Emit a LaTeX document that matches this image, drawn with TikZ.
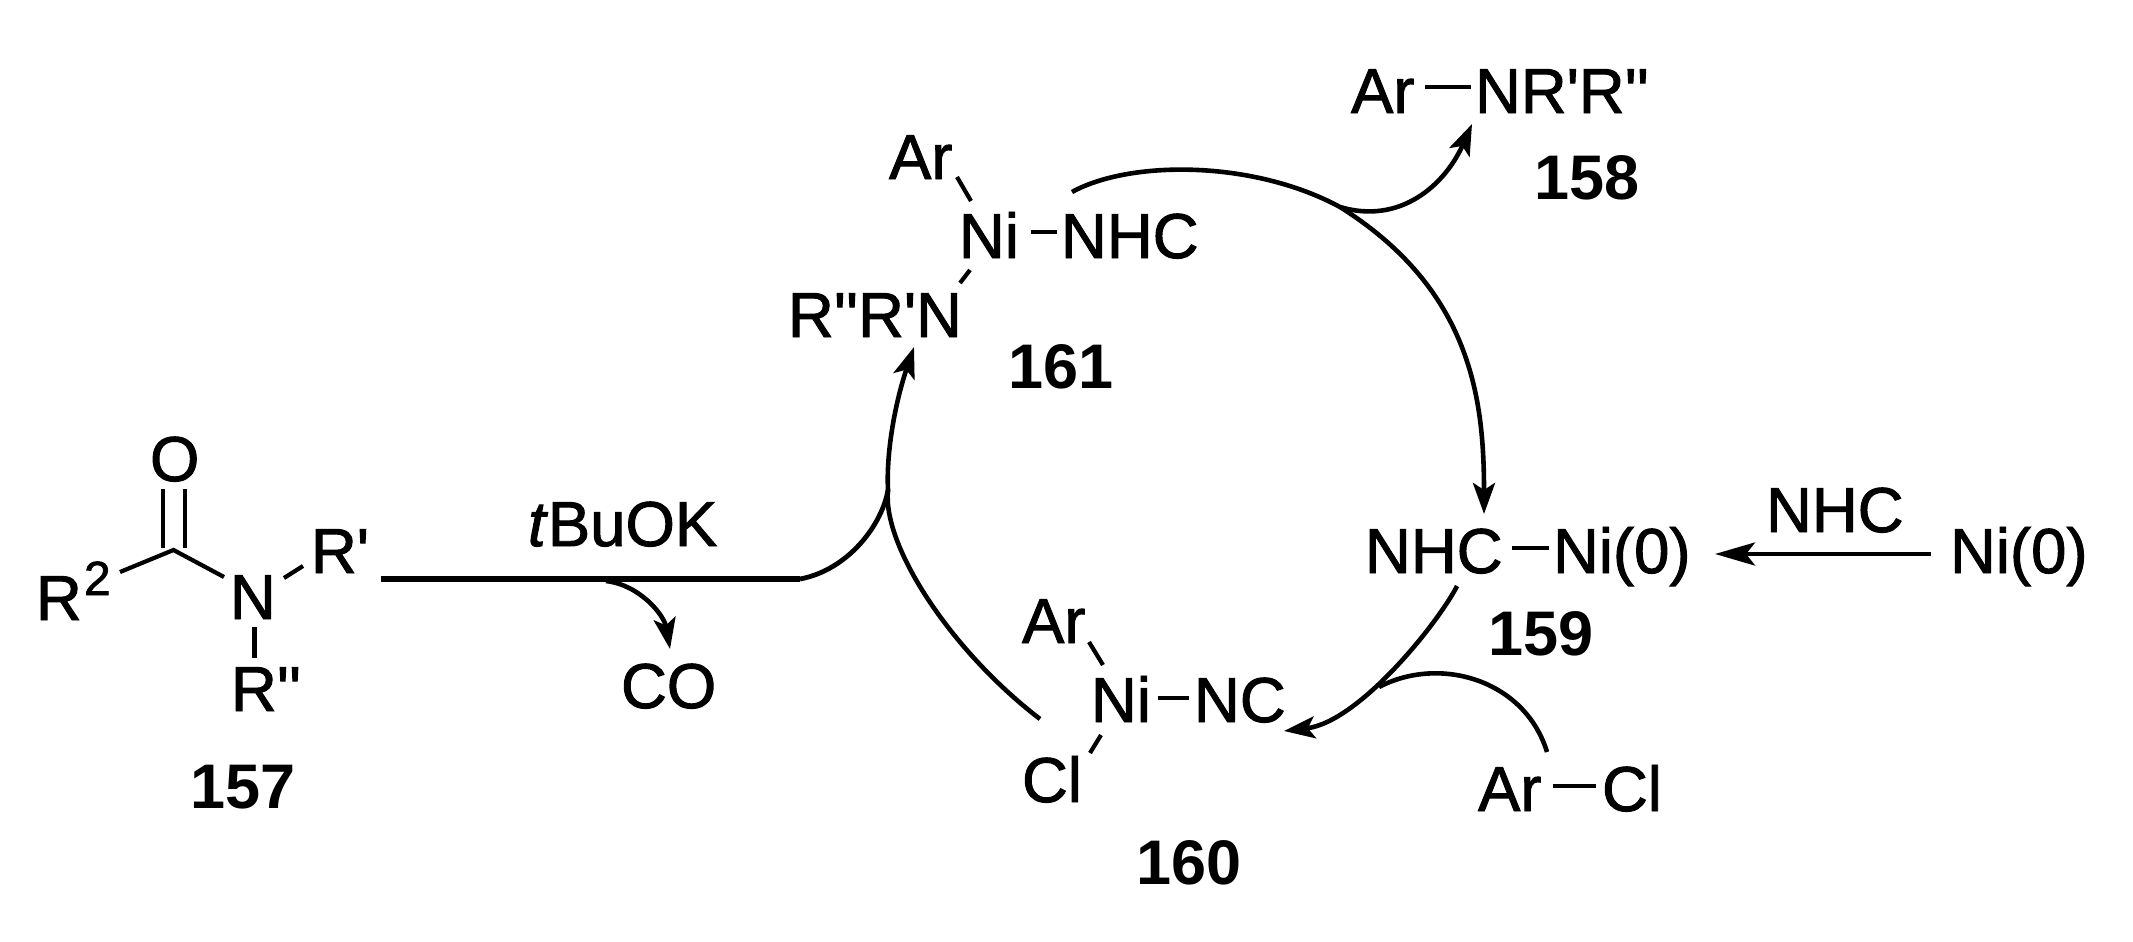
\documentclass[tikz,border=0pt]{standalone}
\usepackage{fontspec}
\usetikzlibrary{arrows.meta}
\newfontfamily\arialf[FakeBold=1.5]{Liberation Sans}
\newfontfamily\arialb{Liberation Sans Bold}
\tikzset{
  atom/.style={inner sep=0pt,outer sep=0pt,anchor=base west,font=\fontsize{63.5}{70}\selectfont\arialf},
  supnum/.style={inner sep=0pt,outer sep=0pt,anchor=base west,font=\fontsize{48}{50}\selectfont\arialf},
  cmpd/.style={inner sep=0pt,outer sep=0pt,anchor=base west,font=\fontsize{63}{70}\selectfont\arialb},
  bond/.style={draw=black,line width=4.2pt},
  curve/.style={draw=black,line width=4.6pt},
  thickline/.style={draw=black,line width=5.5pt},
  head/.style={-{Stealth[length=31pt,width=22pt,inset=7pt]}},
  headwide/.style={-{Stealth[length=40pt,width=23pt,inset=9pt]}}
}
\begin{document}
\begin{tikzpicture}[x=1pt,y=-1pt]
\useasboundingbox (0,0) rectangle (2133,942);
% amide 157
\node[atom] (r2) at (36,620) {R};
\node[supnum] (two) at (84,595) {2};
\node[atom] (oxy) at (150,481) {O};
\node[atom] (nam) at (230,619) {N};
\node[atom] (rp) at (311,573) {R'};
\node[atom] (rpp) at (231,711) {R''};
\node[cmpd] (n157) at (190,808) {157};
\node[atom] (tbuok) at (528,546) {\textit{t}BuOK};
\node[atom] (co) at (621,708) {CO};
% 158
\node[atom] (ar158) at (1351,113) {Ar};
\node[atom] (nrr) at (1475,113) {NR'R''};
\node[cmpd] (n158) at (1534,199) {158};
% 161
\node[atom] (ar161) at (889,179) {Ar};
\node[atom] (ni161) at (959,258) {Ni};
\node[atom] (nhc161) at (1061,258) {NHC};
\node[atom] (rrn) at (788,337) {R''R'N};
\node[cmpd] (n161) at (1008,388) {161};
% 159
\node[atom] (nhc159) at (1365,573) {NHC};
\node[atom] (ni159) at (1553,573) {Ni(0)};
\node[atom] (nhcfree) at (1766,532) {NHC};
\node[atom] (nifree) at (1950,573) {Ni(0)};
\node[cmpd] (n159) at (1488,655) {159};
% 160
\node[atom] (ar160) at (1022,643) {Ar};
\node[atom] (ni160) at (1091,722) {Ni};
\node[atom] (nc160) at (1194,722) {NC};
\node[atom] (cl160) at (1022,802) {Cl};
\node[atom] (arcl) at (1478,811) {Ar};
\node[atom] (clcl) at (1602,811) {Cl};
\node[cmpd] (n160) at (1136,884) {160};
% bond end points
\coordinate (cc) at (173.5,550);
\coordinate (dla) at (163,489); \coordinate (dlb) at (163,548);
\coordinate (dra) at (185,489); \coordinate (drb) at (185,548);
\coordinate (br2) at (120,572);
\coordinate (bna) at (224,577);
\coordinate (brpa) at (284,578); \coordinate (brpb) at (303,566);
\coordinate (brppa) at (254.5,627); \coordinate (brppb) at (254.5,658);
\coordinate (b158a) at (1425,87); \coordinate (b158b) at (1471,87);
\coordinate (b161a) at (957,177); \coordinate (b161b) at (971,201);
\coordinate (b161c) at (1031,232); \coordinate (b161d) at (1057,232);
\coordinate (b161e) at (970,270); \coordinate (b161f) at (960,283);
\coordinate (b159a) at (1511.5,548); \coordinate (b159b) at (1549,548);
\coordinate (b160a) at (1089,642); \coordinate (b160b) at (1103,665);
\coordinate (b160c) at (1157.5,698); \coordinate (b160d) at (1189,698);
\coordinate (b160e) at (1101,735); \coordinate (b160f) at (1090,753);
\coordinate (barcla) at (1553,786); \coordinate (barclb) at (1596,786);
% bonds
\draw[bond] (dla) -- (dlb);
\draw[bond] (dra) -- (drb);
\draw[bond] (br2) -- (cc) -- (bna);
\draw[bond] (brpa) -- (brpb);
\draw[bond] (brppa) -- (brppb);
\draw[bond] (b158a) -- (b158b);
\draw[bond] (b161a) -- (b161b);
\draw[bond] (b161c) -- (b161d);
\draw[bond] (b161e) -- (b161f);
\draw[bond] (b159a) -- (b159b);
\draw[bond] (b160a) -- (b160b);
\draw[bond] (b160c) -- (b160d);
\draw[bond] (b160e) -- (b160f);
\draw[bond] (barcla) -- (barclb);
% reaction line and arrows
\coordinate (ls) at (381,579);
\coordinate (lk) at (800,579);
\coordinate (lj) at (888,490);
\coordinate (tipn) at (914,347);
\coordinate (costart) at (606,581);
\coordinate (cotip) at (670,649);
\coordinate (arcl0) at (1040,719);
\coordinate (arca) at (1072,192);
\coordinate (arcm) at (1340,207);
\coordinate (tipnhc) at (1484,514);
\coordinate (tip158) at (1472,124);
\coordinate (cata) at (1457,586);
\coordinate (tipnc) at (1284,731);
\coordinate (arcla) at (1547,752);
\coordinate (arclb) at (1379,687);
\coordinate (nist) at (1931,554);
\coordinate (nitip) at (1715,554);
\draw[thickline] (ls) -- (lk);
\draw[curve,line width=4.8pt] (lk) .. controls (848,570) and (882,525) .. (lj);
\draw[curve,head] (arcl0) .. controls (950,650) and (882,545) .. (lj) .. controls (886,450) and (896,400) .. (tipn);
\draw[curve,head] (costart) .. controls (640,585) and (664,615) .. (cotip);
\draw[curve,head] (arca) .. controls (1130,160) and (1253,160) .. (arcm) .. controls (1472,290) and (1484,400) .. (tipnhc);
\draw[curve,head] (arcm) .. controls (1400,225) and (1445,185) .. (tip158);
\draw[curve,head] (cata) .. controls (1440,620) and (1360,722) .. (tipnc);
\draw[curve] (arcla) .. controls (1525,680) and (1440,655) .. (arclb);
\draw[curve,headwide] (nist) -- (nitip);
\end{tikzpicture}
\end{document}
